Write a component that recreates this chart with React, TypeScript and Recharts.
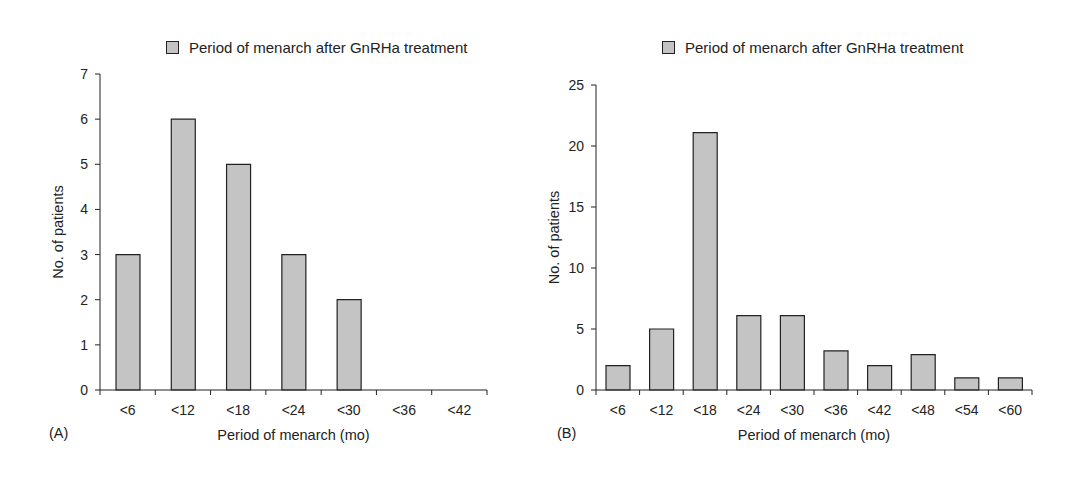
import { BarChart, Bar, XAxis, YAxis, Legend } from "recharts";

const categoriesA = ["<6", "<12", "<18", "<24", "<30", "<36", "<42"];
const patientsA = [3, 6, 5, 3, 2, 0, 0];
const ticksA = [0, 1, 2, 3, 4, 5, 6, 7];

const categoriesB = ["<6", "<12", "<18", "<24", "<30", "<36", "<42", "<48", "<54", "<60"];
const patientsB = [2, 5, 21.1, 6.1, 6.1, 3.2, 2, 2.9, 1, 1];
const ticksB = [0, 5, 10, 15, 20, 25];

const seriesName = "Period of menarch after GnRHa treatment";
const xTitle = "Period of menarch (mo)";
const yTitle = "No. of patients";

const FONT = "'Liberation Sans', Arial, sans-serif";
const INK = "#222";
const BAR_FILL = "#c4c4c4";

const dataA = categoriesA.map((category, i) => ({ category, patients: patientsA[i] }));
const dataB = categoriesB.map((category, i) => ({ category, patients: patientsB[i] }));

// x ticks sit on the category boundaries, labels in the middle
const makeTick = (count: number, plotWidth: number) => (props: any) => {
  const { x, y, payload, index } = props;
  const half = plotWidth / count / 2;
  return (
    <g>
      <line x1={x - half} x2={x - half} y1={y} y2={y + 5} stroke={INK} />
      {index === count - 1 && (
        <line x1={x + half} x2={x + half} y1={y} y2={y + 5} stroke={INK} />
      )}
      <text x={x} y={y + 25} textAnchor="middle" fontSize={14} fill={INK}>
        {payload.value}
      </text>
    </g>
  );
};

function LegendBox({ payload }: any) {
  return (
    <div style={{ display: "flex", alignItems: "center", height: 18, fontSize: 15, color: INK }}>
      {(payload || []).map((e: any) => (
        <span key={e.value} style={{ display: "flex", alignItems: "center", whiteSpace: "nowrap" }}>
          <span
            style={{
              display: "inline-block",
              width: 11,
              height: 11,
              border: `1px solid ${INK}`,
              background: BAR_FILL,
              marginRight: 10,
            }}
          />
          {e.value}
        </span>
      ))}
    </div>
  );
}

function Panel({
  data,
  ticks,
  width,
  marginTop,
  marginRight,
  count,
}: {
  data: { category: string; patients: number }[];
  ticks: number[];
  width: number;
  marginTop: number;
  marginRight: number;
  count: number;
}) {
  const plotWidth = width - 100 - marginRight;
  return (
    <BarChart
      width={width}
      height={483}
      data={data}
      margin={{ top: marginTop, right: marginRight, left: 30, bottom: 43 }}
    >
      <Legend
        verticalAlign="top"
        content={<LegendBox />}
        wrapperStyle={{ top: 38, left: 166, width: "auto" }}
      />
      <XAxis
        dataKey="category"
        interval={0}
        height={50}
        tickSize={0}
        tickMargin={0}
        tickLine={false}
        axisLine={{ stroke: INK }}
        tick={makeTick(count, plotWidth)}
        label={{ value: xTitle, position: "insideBottom", offset: 0, fill: INK, fontSize: 14.5 }}
      />
      <YAxis
        width={70}
        domain={[ticks[0], ticks[ticks.length - 1]]}
        ticks={ticks}
        tickSize={5}
        tickMargin={7}
        axisLine={{ stroke: INK }}
        tickLine={{ stroke: INK }}
        tick={{ fill: INK, fontSize: 14 }}
        label={{
          value: yTitle,
          angle: -90,
          position: "insideLeft",
          offset: 28,
          fill: INK,
          fontSize: 14.5,
          style: { textAnchor: "middle" },
        }}
      />
      <Bar
        dataKey="patients"
        name={seriesName}
        fill={BAR_FILL}
        stroke={INK}
        strokeWidth={1.2}
        barSize={24}
        isAnimationActive={false}
      />
    </BarChart>
  );
}

export default function App() {
  return (
    <div
      style={{
        position: "absolute",
        left: 0,
        top: 0,
        width: 1084,
        height: 483,
        background: "#fff",
        fontFamily: FONT,
      }}
    >
      <div style={{ position: "absolute", left: 0, top: 0 }}>
        <Panel data={dataA} ticks={ticksA} width={496} marginTop={56} marginRight={9} count={categoriesA.length} />
      </div>
      <div style={{ position: "absolute", left: 496, top: 0 }}>
        <Panel data={dataB} ticks={ticksB} width={588} marginTop={67} marginRight={52} count={categoriesB.length} />
      </div>
      <div style={{ position: "absolute", left: 49, top: 425, fontSize: 14.5, color: INK }}>(A)</div>
      <div style={{ position: "absolute", left: 557, top: 425, fontSize: 14.5, color: INK }}>(B)</div>
    </div>
  );
}
